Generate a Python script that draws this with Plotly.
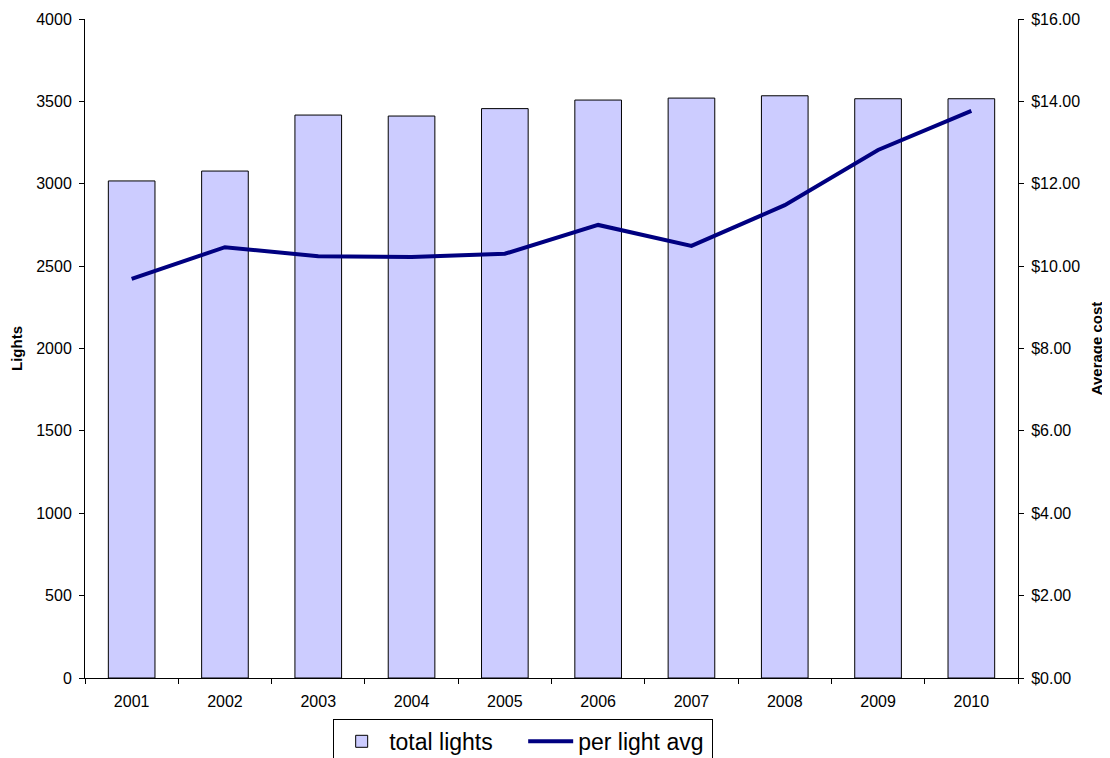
import plotly.graph_objects as go

years = ["2001", "2002", "2003", "2004", "2005", "2006", "2007", "2008", "2009", "2010"]
total_lights = [3017, 3077, 3417, 3411, 3456, 3508, 3520, 3534, 3516, 3516]
per_light_avg = [9.69, 10.46, 10.24, 10.22, 10.30, 11.00, 10.49, 11.48, 12.82, 13.77]
left_ticks = [0, 500, 1000, 1500, 2000, 2500, 3000, 3500, 4000]
right_ticks = [0, 2, 4, 6, 8, 10, 12, 14, 16]

fig = go.Figure()
fig.add_trace(go.Bar(
    x=years, y=total_lights, name="total lights",
    marker=dict(color="#CCCCFF", line=dict(color="#000000", width=1)),
    xaxis="x", yaxis="y"))
fig.add_trace(go.Scatter(
    x=years, y=per_light_avg, name="per light avg", mode="lines",
    line=dict(color="#000080", width=4), xaxis="x", yaxis="y2"))

font = "Liberation Sans, Arial, sans-serif"
common = dict(showgrid=False, zeroline=False, linecolor="black", linewidth=1,
              tickcolor="black", ticklen=5)
fig.update_layout(
    width=1102, height=750,
    margin=dict(l=77, r=92, t=11, b=80, autoexpand=False),
    paper_bgcolor="white", plot_bgcolor="white",
    font=dict(family=font, size=16, color="black"),
    bargap=0.5,
    showlegend=True,
    legend=dict(orientation="h", x=0.266, xanchor="left", y=-0.062, yanchor="top",
                bordercolor="black", borderwidth=1, bgcolor="white",
                font=dict(size=23, family=font), traceorder="normal",
                itemwidth=45, entrywidth=129, entrywidthmode="pixels"),
    xaxis=dict(type="category", showline=True, ticks="outside", tickson="boundaries",
               ticklabelstandoff=9, **common),
    yaxis=dict(range=[0, 4000], tickvals=left_ticks, showline=True, ticks="outside",
               ticklabelstandoff=4,
               title=dict(text="<b>Lights</b>", font=dict(size=15), standoff=22),
               **common),
    yaxis2=dict(range=[0, 16], tickvals=right_ticks, tickformat="$.2f", overlaying="y",
                side="right", showline=True, ticks="outside", ticklabelstandoff=4,
                title=dict(text="<b>Average cost</b>", font=dict(size=15), standoff=12),
                **common),
)
fig.write_html("out.html")
